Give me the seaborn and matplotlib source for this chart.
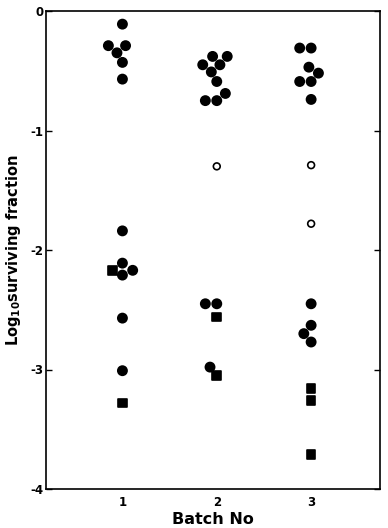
import numpy as np
import pandas as pd
import matplotlib
matplotlib.use("Agg")
import matplotlib.pyplot as plt
import seaborn as sns
from matplotlib.markers import MarkerStyle

# ---- data (log10 surviving fraction) ----
batches = ["1", "2", "3"]
batch1_filled = [-0.11, -0.29, -0.29, -0.35, -0.43, -0.57, -1.84, -2.11, -2.17, -2.21, -2.57, -3.01]
batch1_open = []
batch1_square = [-2.17, -3.28]
batch2_filled = [-0.38, -0.38, -0.45, -0.45, -0.51, -0.59, -0.69, -0.75, -0.75, -2.45, -2.45, -2.98]
batch2_open = [-1.30]
batch2_square = [-2.56, -3.05]
batch3_filled = [-0.31, -0.31, -0.47, -0.52, -0.59, -0.59, -0.74, -2.45, -2.63, -2.70, -2.77]
batch3_open = [-1.29, -1.78]
batch3_square = [-3.16, -3.26, -3.71]
y_ticks = [0, -1, -2, -3, -4]

groups = {
    "1": {"filled": batch1_filled, "open": batch1_open, "square": batch1_square},
    "2": {"filled": batch2_filled, "open": batch2_open, "square": batch2_square},
    "3": {"filled": batch3_filled, "open": batch3_open, "square": batch3_square},
}
rows = []
for b in batches:
    for kind, vals in groups[b].items():
        for v in vals:
            rows.append({"batch": b, "kind": kind, "value": v})
df = pd.DataFrame(rows)

sns.set_style("ticks")
plt.rcParams["font.family"] = ["DejaVu Sans"]
plt.rcParams["font.weight"] = "bold"
plt.rcParams["axes.labelweight"] = "bold"
plt.rcParams["text.color"] = "black"
plt.rcParams["axes.labelcolor"] = "black"
plt.rcParams["xtick.color"] = "black"
plt.rcParams["ytick.color"] = "black"

fig = plt.figure(figsize=(3.88, 5.28), dpi=100)
ax = fig.add_axes([46 / 388, 1 - 489 / 528, (380 - 46) / 388, (489 - 11) / 528])

palette = {"filled": "black", "open": "white", "square": "black"}
sns.swarmplot(data=df, x="batch", y="value", hue="kind", order=batches,
              palette=palette, edgecolor="black", linewidth=1.2, size=7,
              legend=False, ax=ax)

# per-point marker shapes and sizes
circ = MarkerStyle("o")
circ_path = circ.get_path().transformed(circ.get_transform())
sq = MarkerStyle("s")
sq_path = sq.get_path().transformed(sq.get_transform())
size_map = {"filled": 44, "open": 24, "square": 38}
for coll, b in zip(ax.collections, batches):
    kinds = list(df[df["batch"] == b]["kind"])
    coll.set_paths([sq_path if k == "square" else circ_path for k in kinds])
    coll.set_sizes([size_map[k] for k in kinds])

ax.set_ylim(-4, 0)
ax.set_xlim(-0.81, 2.73)
ax.set_yticks(y_ticks)
ax.set_yticklabels([str(t) for t in y_ticks], fontsize=8.5, fontweight="bold")
ax.set_xticks(range(len(batches)))
ax.set_xticklabels(batches, fontsize=8.5, fontweight="bold")
ax.tick_params(axis="x", length=0, pad=5, colors="black")
ax.tick_params(axis="y", left=True, right=True, direction="in", length=4, width=1,
               pad=2, colors="black")
for s in ax.spines.values():
    s.set_linewidth(1.2)
    s.set_color("black")

ax.set_xlabel("Batch No", fontsize=11.5, fontweight="bold", color="black")
ax.xaxis.set_label_coords(0.5, -0.048)
ax.xaxis.label.set_va("top")
ax.set_ylabel(r"Log$_{\mathbf{10}}$surviving fraction", fontsize=10.5,
              fontweight="bold", color="black")
ax.yaxis.set_label_coords(-0.097, 0.5)
ax.yaxis.label.set_va("center")

fig.savefig("out.png", dpi=100)
